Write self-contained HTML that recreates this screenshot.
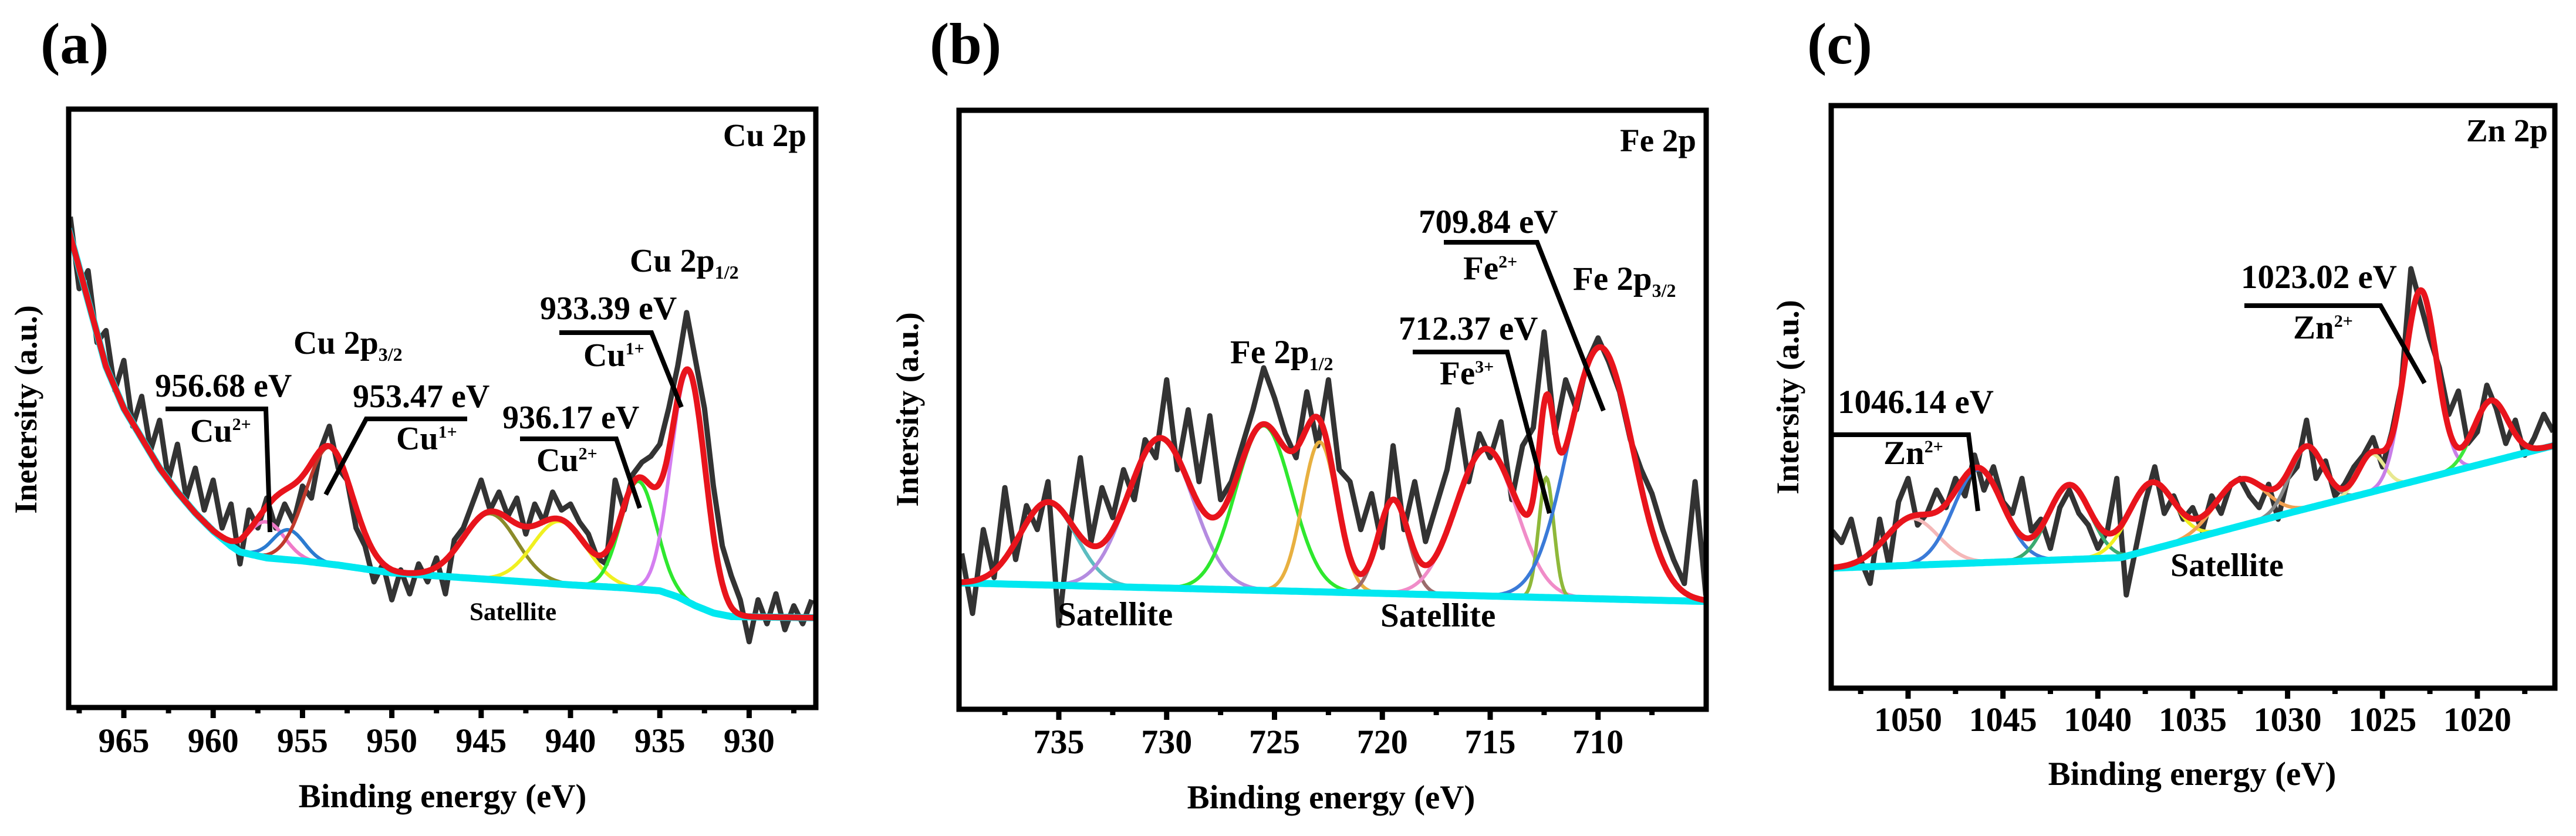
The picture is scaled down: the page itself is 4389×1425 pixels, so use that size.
<!DOCTYPE html>
<html><head><meta charset="utf-8"><style>
html,body{margin:0;padding:0;background:#fff;}
svg{display:block;font-family:"Liberation Serif",serif;font-weight:bold;}
</style></head><body>
<svg id="fig" width="4389" height="1425" viewBox="0 0 4389 1425" xmlns="http://www.w3.org/2000/svg">
<defs>
<clipPath id="clipA"><rect x="117" y="186" width="1273" height="1020"/></clipPath>
<clipPath id="clipB"><rect x="1634" y="188" width="1273" height="1021"/></clipPath>
<clipPath id="clipC"><rect x="3120" y="180" width="1233" height="993"/></clipPath>
</defs>
<text x="69" y="108" font-size="100">(a)</text>
<text x="1584" y="108" font-size="100">(b)</text>
<text x="3079" y="108" font-size="100">(c)</text>

<g id="panelA">
<g id="plotA" clip-path="url(#clipA)"></g>
<rect x="117" y="186" width="1273" height="1020" fill="none" stroke="#000" stroke-width="9"/>
<g id="ticksA"></g>
<text x="1374" y="249" font-size="55" text-anchor="end">Cu 2p</text>
<text x="1073" y="463" font-size="56">Cu 2p<tspan font-size="32" dy="12">1/2</tspan></text>
<text x="920" y="544" font-size="56">933.39 eV</text>
<polyline points="953,567 1110,567 1161,694" fill="none" stroke="#000" stroke-width="8"/>
<text x="994" y="624" font-size="56">Cu<tspan font-size="30" dy="-20">1+</tspan></text>
<text x="500" y="603" font-size="56">Cu 2p<tspan font-size="32" dy="12">3/2</tspan></text>
<text x="264" y="676" font-size="56">956.68 eV</text>
<polyline points="282,697 453,697 460,907" fill="none" stroke="#000" stroke-width="8"/>
<text x="324" y="753" font-size="56">Cu<tspan font-size="30" dy="-20">2+</tspan></text>
<text x="601" y="694" font-size="56">953.47 eV</text>
<polyline points="796,714 624,714 555,843" fill="none" stroke="#000" stroke-width="8"/>
<text x="675" y="766" font-size="56">Cu<tspan font-size="30" dy="-20">1+</tspan></text>
<text x="856" y="730" font-size="56">936.17 eV</text>
<polyline points="886,748 1050,748 1090,866" fill="none" stroke="#000" stroke-width="8"/>
<text x="914" y="803" font-size="56">Cu<tspan font-size="30" dy="-20">2+</tspan></text>
<text x="800" y="1057" font-size="43">Satellite</text>
<text transform="translate(62,698) rotate(-90)" font-size="54" text-anchor="middle">Inetersity (a.u.)</text>
<text x="754" y="1376" font-size="57" text-anchor="middle">Binding energy (eV)</text>
</g>

<g id="panelB">
<g id="plotB" clip-path="url(#clipB)"></g>
<rect x="1634" y="188" width="1273" height="1021" fill="none" stroke="#000" stroke-width="9"/>
<g id="ticksB"></g>
<text x="2890" y="258" font-size="55" text-anchor="end">Fe 2p</text>
<text x="2417" y="397" font-size="57">709.84 eV</text>
<polyline points="2460,413 2619,413 2732,700" fill="none" stroke="#000" stroke-width="8"/>
<text x="2493" y="476" font-size="57">Fe<tspan font-size="30" dy="-20">2+</tspan></text>
<text x="2680" y="494" font-size="57">Fe 2p<tspan font-size="32" dy="12">3/2</tspan></text>
<text x="2383" y="579" font-size="57">712.37 eV</text>
<polyline points="2407,600 2568,600 2640,875" fill="none" stroke="#000" stroke-width="8"/>
<text x="2453" y="655" font-size="57">Fe<tspan font-size="30" dy="-20">3+</tspan></text>
<text x="2096" y="619" font-size="57">Fe 2p<tspan font-size="32" dy="12">1/2</tspan></text>
<text x="1802" y="1066" font-size="57">Satellite</text>
<text x="2352" y="1068" font-size="57">Satellite</text>
<text transform="translate(1564,698) rotate(-90)" font-size="54" text-anchor="middle">Intersity (a.u.)</text>
<text x="2268" y="1378" font-size="57" text-anchor="middle">Binding energy (eV)</text>
</g>

<g id="panelC">
<g id="plotC" clip-path="url(#clipC)"></g>
<rect x="3120" y="180" width="1233" height="993" fill="none" stroke="#000" stroke-width="9"/>
<g id="ticksC"></g>
<text x="4341" y="241" font-size="55" text-anchor="end">Zn 2p</text>
<text x="3818" y="491" font-size="57">1023.02 eV</text>
<polyline points="3824,521 4056,521 4131,653" fill="none" stroke="#000" stroke-width="8"/>
<text x="3907" y="577" font-size="57">Zn<tspan font-size="30" dy="-20">2+</tspan></text>
<text x="3131" y="704" font-size="57">1046.14 eV</text>
<polyline points="3124,741 3354,741 3370,871" fill="none" stroke="#000" stroke-width="8"/>
<text x="3209" y="791" font-size="57">Zn<tspan font-size="30" dy="-20">2+</tspan></text>
<text x="3698" y="982" font-size="56">Satellite</text>
<text transform="translate(3064,677) rotate(-90)" font-size="54" text-anchor="middle">Intersity (a.u.)</text>
<text x="3735" y="1338" font-size="57" text-anchor="middle">Binding energy (eV)</text>
</g>
</svg>
<script>
const aTicks = [965, 960, 955, 950, 945, 940, 935, 930];
const aCenters = [957.0, 955.8, 953.5, 944.5, 940.6, 936.2, 933.4];
const aHeights = [6, 5, 19.5, 11, 10.5, 18, 38.5];
const aWidths = [1.0, 0.9, 1.3, 1.5, 1.5, 1.0, 0.95];
const aBgE = [968.1, 967, 966, 965, 964, 963, 962, 961, 960, 959, 958.5, 957, 955, 953, 950, 945, 940, 937, 935, 934, 933, 932, 931, 926.3];
const aBgI = [80, 68, 57, 50, 45, 40, 36, 32.5, 29.5, 27, 26, 25, 24.5, 23.8, 22.5, 21.5, 20.5, 20, 19.5, 18.5, 17, 15.8, 15.2, 15];
const aDataStart = 968;
const aData = [82,70,73,61,63,53,58,47,52,43,48,38,44,35,40,33,38,30,34,24,33,30,35,30,34,31,37,35,43,47,40,38,30,27,21,24,18,23,19,24,21,25,19,28,30,34,38,33,36,32,35,29,34,31,36,33,34,31,29,25,24,38,33,39,41,42,44,50,57,66,58,50,37,27,22,18,11,18,14,19,13,17,14,18];

const bTicks = [735, 730, 725, 720, 715, 710];
const bCenters = [735.5, 730.3, 725.5, 722.9, 719.5, 715.2, 712.4, 709.9];
const bHeights = [13.8, 25, 27.5, 25, 15.5, 24.5, 20, 42];
const bWidths = [1.3, 1.5, 1.3, 0.8, 0.7, 1.4, 0.35, 1.5];
const bBgE = [739.6, 705];
const bBgI = [21.1, 18.0];
const bDataStart = 739.5;
const bData = [26,16,30,22,37,25,34,30,38,14,30,42,28,37,32,40,35,45,42,55,40,50,38,49,35,38,44,50,57,52,46,42,53,44,55,40,38,30,36,27,44,30,38,28,34,40,50,38,46,42,48,35,44,47,63,46,55,50,58,62,58,53,45,40,36,30,25,21,38,19];

const cTicks = [1050, 1045, 1040, 1035, 1030, 1025, 1020];
const cCenters = [1049.8, 1046.3, 1041.5, 1037.2, 1032.5, 1029.0, 1025.6, 1023.0, 1019.3];
const cHeights = [8, 16, 12.8, 11.5, 8, 10.5, 6.5, 32.5, 10.5];
const cWidths = [1.4, 1.3, 1.1, 1.2, 1.3, 0.9, 0.7, 0.85, 0.9];
const cBgE = [1054.05, 1038.8, 1030, 1015.9];
const cBgI = [20.6, 22.4, 30, 41.7];
const cDataStart = 1054;
const cData = [27,25,29,22,18,29,21,32,36,28,30,34,31,36,33,40,34,38,32,30,36,27,29,24,31,34,30,28,24,27,36,16,24,32,38,30,33,29,31,27,33,30,35,36,33,31,35,29,36,38,46,36,39,33,35,38,40,43,38,44,52,72,66,60,55,47,51,42,44,52,48,42,46,40,43,47,44];

const aColors = ['#f07ac8', '#2b7bd0', '#c0392b', '#8b8b2a', '#f0f020', '#2ee82e', '#d47ef0'];
const bColors = ['#5bbcc0', '#b48be0', '#2ee82e', '#e8b040', '#9b6b6b', '#f08cc8', '#8fb83a', '#3a7ad8'];
const cColors = ['#f5b8b8', '#3a7ad8', '#3aaa70', '#f0f020', '#f0a050', '#888888', '#e8e890', '#c87ee8', '#3ee83e'];

const NS = 'http://www.w3.org/2000/svg';
function mk(tag, attrs, parent) {
  const el = document.createElementNS(NS, tag);
  for (const k in attrs) el.setAttribute(k, attrs[k]);
  parent.appendChild(el);
  return el;
}
function interp(xs, ys, x) {
  if (x >= xs[0]) return ys[0];
  for (let i = 1; i < xs.length; i++) {
    if (x >= xs[i]) { const t = (xs[i-1] - x) / (xs[i-1] - xs[i]); return ys[i-1] + t * (ys[i] - ys[i-1]); }
  }
  return ys[ys.length - 1];
}
function gauss(e, c, h, w) { return h * Math.exp(-((e - c) * (e - c)) / (2 * w * w)); }

function drawPanel(p) {
  const xScale = e => p.x0 + (p.e0 - e) * p.pxPerEv;
  const yScale = I => p.bottom - I / 100 * (p.bottom - p.top);
  const plot = document.getElementById(p.plotId);
  const bg = e => interp(p.bgE, p.bgI, e);
  let d = '';
  p.data.forEach((v, i) => {
    const e = p.dataStart - i * 0.5;
    d += (i ? 'L' : 'M') + xScale(e).toFixed(1) + ',' + yScale(v).toFixed(1);
  });
  const dataPath = mk('path', {d: d, fill: 'none', stroke: '#333', 'stroke-width': 9, 'stroke-linejoin': 'round'}, plot);
  
  
  const eMax = p.bgE[0], eMin = p.bgE[p.bgE.length - 1];
  p.centers.forEach((c, k) => {
    let s = '', started = false;
    for (let e = c + 4 * p.widths[k]; e >= c - 4 * p.widths[k]; e -= 0.05) {
      if (e > eMax || e < eMin) continue;
      const I = bg(e) + gauss(e, c, p.heights[k], p.widths[k]);
      s += (started ? 'L' : 'M') + xScale(e).toFixed(1) + ',' + yScale(I).toFixed(1);
      started = true;
    }
    const comp = mk('path', {d: s, fill: 'none', stroke: p.colors[k], 'stroke-width': 6}, plot);
    
    
  });
  let b = '';
  for (let e = eMax, i = 0; e >= eMin - 0.001; e -= 0.1, i++) {
    b += (i ? 'L' : 'M') + xScale(e).toFixed(1) + ',' + yScale(bg(e)).toFixed(1);
  }
  const bgPath = mk('path', {d: b, fill: 'none', stroke: '#00e8f0', 'stroke-width': 12}, plot);
  
  
  let f = '';
  for (let e = eMax, i = 0; e >= eMin - 0.001; e -= 0.05, i++) {
    let I = bg(e);
    p.centers.forEach((c, k) => { I += gauss(e, c, p.heights[k], p.widths[k]); });
    f += (i ? 'L' : 'M') + xScale(e).toFixed(1) + ',' + yScale(I).toFixed(1);
  }
  const fit = mk('path', {d: f, fill: 'none', stroke: '#e8141c', 'stroke-width': 10, 'stroke-linejoin': 'round'}, plot);
  
  
  const tg = document.getElementById(p.ticksId);
  p.ticks.forEach(t => {
    const x = xScale(t);
    const tk = mk('line', {x1: x, x2: x, y1: p.bottom, y2: p.bottom + 18, stroke: '#000', 'stroke-width': 9}, tg);
    
    
    const lb = mk('text', {x: x, y: p.labelY, 'font-size': 58, 'text-anchor': 'middle'}, tg);
    lb.textContent = t;
    
    
  });
  const minors = [p.ticks[0] + 2.5].concat(p.ticks.map(t => t - 2.5));
  minors.forEach(t => {
    const x = xScale(t);
    if (x < p.left + 5 || x > p.right - 5) return;
    const mt = mk('line', {x1: x, x2: x, y1: p.bottom, y2: p.bottom + 10, stroke: '#000', 'stroke-width': 9}, tg);
    
    
  });
}

drawPanel({key: 'cu', plotId: 'plotA', ticksId: 'ticksA', x0: 211, e0: 965, pxPerEv: 30.44, top: 186, bottom: 1206, left: 117, right: 1390, labelY: 1282,
  ticks: aTicks, centers: aCenters, heights: aHeights, widths: aWidths, colors: aColors, bgE: aBgE, bgI: aBgI, data: aData, dataStart: aDataStart});
drawPanel({key: 'fe', plotId: 'plotB', ticksId: 'ticksB', x0: 1804, e0: 735, pxPerEv: 36.75, top: 188, bottom: 1209, left: 1634, right: 2907, labelY: 1284,
  ticks: bTicks, centers: bCenters, heights: bHeights, widths: bWidths, colors: bColors, bgE: bBgE, bgI: bBgI, data: bData, dataStart: bDataStart});
drawPanel({key: 'zn', plotId: 'plotC', ticksId: 'ticksC', x0: 3251, e0: 1050, pxPerEv: 32.33, top: 180, bottom: 1173, left: 3120, right: 4353, labelY: 1246,
  ticks: cTicks, centers: cCenters, heights: cHeights, widths: cWidths, colors: cColors, bgE: cBgE, bgI: cBgI, data: cData, dataStart: cDataStart});
</script>
</body></html>
